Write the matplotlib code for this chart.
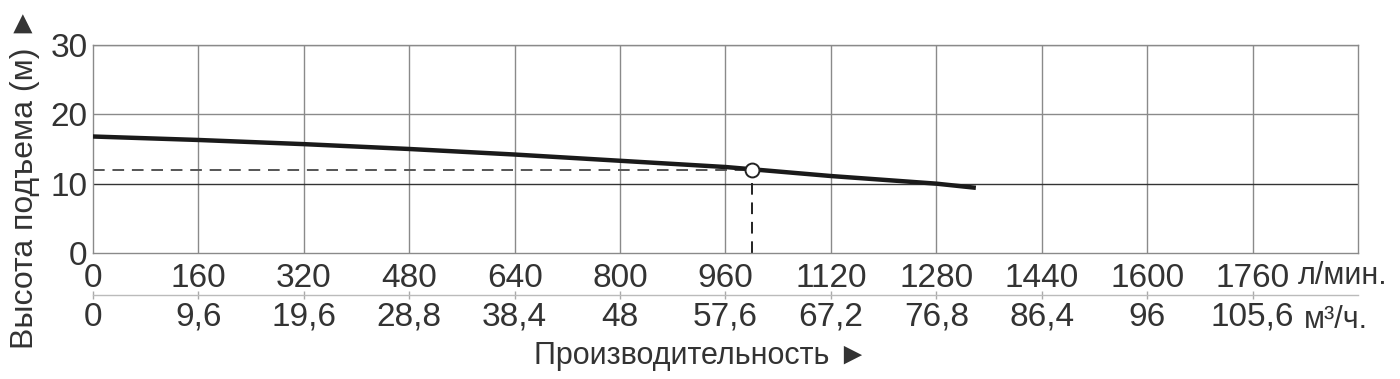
import matplotlib.pyplot as plt

plt.rcParams['font.family'] = ['Liberation Sans', 'DejaVu Sans']

# pump curve, flow in l/min vs head in m
flow = [0, 160, 320, 480, 640, 800, 960, 1120, 1280, 1340]
head = [16.8, 16.3, 15.7, 15.0, 14.2, 13.3, 12.4, 11.1, 10.0, 9.4]

# operating point
op_flow = 1000
op_head = 12

ticks_lmin = [0, 160, 320, 480, 640, 800, 960, 1120, 1280, 1440, 1600, 1760]
labels_m3h = ['0', '9,6', '19,6', '28,8', '38,4', '48', '57,6', '67,2',
              '76,8', '86,4', '96', '105,6']
ticks_head = [0, 10, 20, 30]

fig = plt.figure(figsize=(14, 3.79), dpi=100)
ax = fig.add_axes([0.0664, 0.3325, 0.9036, 0.5488])

grid_col = '#8a8a8a'
for t in ticks_lmin[1:]:
    ax.axvline(t, color=grid_col, lw=1.0, zorder=1)
for h in ticks_head[1:]:
    ax.axhline(h, color='#333333' if h == 10 else grid_col, lw=1.0, zorder=1)

ax.plot([0, op_flow], [op_head, op_head], ls=(0, (6, 4)), color='#555555', lw=1.4, zorder=2)
ax.plot([op_flow, op_flow], [0, op_head], ls=(0, (6, 4)), color='#222222', lw=1.4, zorder=2)
ax.plot(flow, head, color='#1a1a1a', lw=3.2, solid_capstyle='butt', zorder=3)
ax.plot([op_flow], [op_head], 'o', ms=10, mfc='white', mec='#222222', mew=1.4, zorder=4)

ax.set_xlim(0, 1920)
ax.set_ylim(0, 30)
for s in ax.spines.values():
    s.set_color(grid_col)
    s.set_linewidth(1.0)

ax.set_xticks(ticks_lmin)
ax.set_xticklabels([str(t) for t in ticks_lmin])
ax.set_yticks(ticks_head)
ax.tick_params(axis='both', length=0, labelsize=24, colors='#333333')
ax.tick_params(axis='x', pad=7)
ax.tick_params(axis='y', pad=4)

sec = ax.secondary_xaxis(-0.202)
sec.set_xticks(ticks_lmin)
sec.set_xticklabels(labels_m3h)
sec.tick_params(axis='x', direction='inout', length=6, width=1, color='#aaaaaa',
                labelsize=24, labelcolor='#333333', pad=2)
sec.spines['bottom'].set_color('#bbbbbb')
sec.spines['bottom'].set_linewidth(1.0)
sec.spines['bottom'].set_bounds(0, 1920)

fig.text(1298 / 1400, 1 - 276 / 379, 'л/мин.', fontsize=22, color='#333333',
         ha='left', va='center')
fig.text(1304 / 1400, 1 - 320 / 379, 'м³/ч.', fontsize=22, color='#333333',
         ha='left', va='center')

# ► turns into ▲ once the label is rotated
ax.set_ylabel('Высота подъема (м) ►', fontsize=23, color='#333333', va='center')
ax.yaxis.set_label_coords(-0.054, 0.36)
fig.text(0.501, 1 - 356 / 379, 'Производительность ►', fontsize=22, color='#333333',
         ha='center', va='center')

fig.savefig('out.png', dpi=100, facecolor='white')
